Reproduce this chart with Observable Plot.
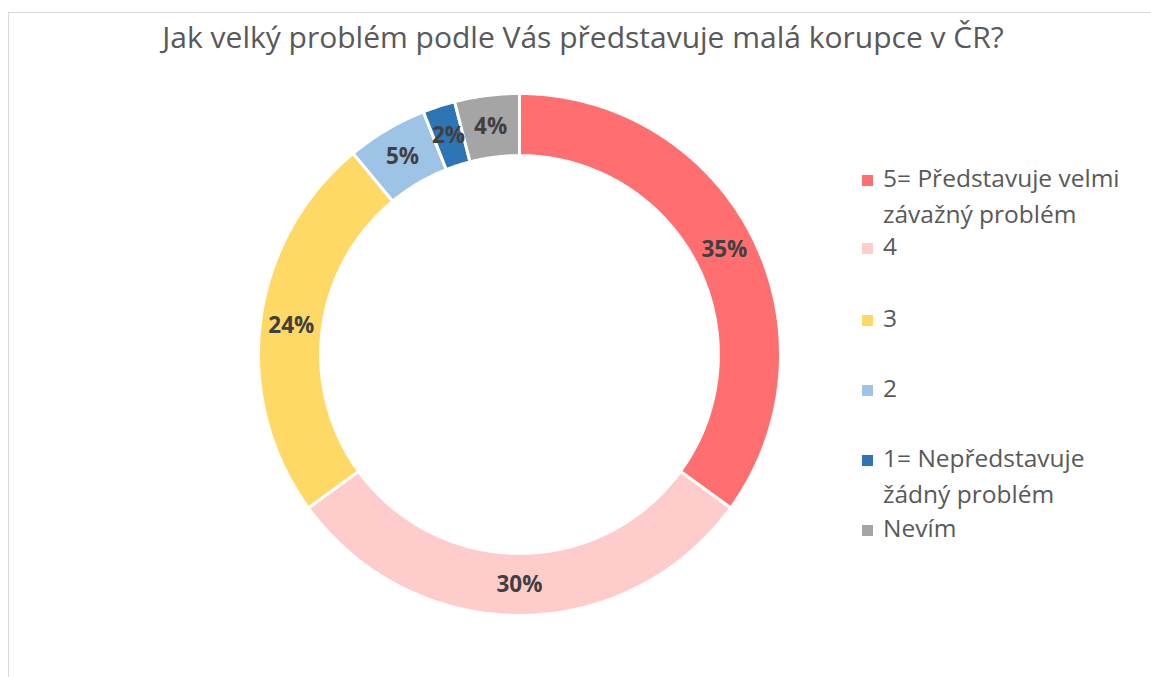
<!DOCTYPE html>
<html><head><meta charset="utf-8">
<script src="https://cdn.jsdelivr.net/npm/d3@7"></script>
<script src="https://cdn.jsdelivr.net/npm/@observablehq/plot@0.6"></script>
<style>
body{margin:0;background:#fff;}
#wrap{position:relative;width:1151px;height:677px;overflow:hidden;font-family:"Open Sans",sans-serif;}
#frame{position:absolute;left:8px;top:12px;width:1200px;height:700px;border-top:1px solid #d9d9d9;border-left:1px solid #d9d9d9;}
#title{position:absolute;left:0;width:1166px;top:22px;text-align:center;font-size:30px;line-height:30px;color:#595959;white-space:nowrap;}
#chart{position:absolute;left:0;top:0;}
.leg{position:absolute;left:862px;font-size:24.5px;color:#595959;line-height:36px;width:276px;}
.leg .sw{position:absolute;left:0;top:15.5px;width:11px;height:11px;}
.leg .tx{margin-left:21px;width:254px;}
</style></head>
<body><div id="wrap"><div id="frame"></div><div id="title"></div><div id="chart"></div></div>
<script>
const title = "Jak velký problém podle Vás představuje malá korupce v ČR?";
const categories = ["5= Představuje velmi závažný problém","4","3","2","1= Nepředstavuje žádný problém","Nevím"];
const values = [35, 30, 24, 5, 2, 4];
const labels = ["35%","30%","24%","5%","2%","4%"];
const colors = ["#FF6F6F","#FFCCCC","#FFD966","#9DC3E6","#2E75B6","#A5A5A5"];

document.getElementById("title").textContent = title;

const W = 1151, H = 677, cx = 519, cy = 354, R = 261, inner = 0.762;
const total = d3.sum(values);
let acc = 0;
const slices = values.map((v, i) => {
  const a0 = acc / total * 2 * Math.PI; acc += v;
  const a1 = acc / total * 2 * Math.PI;
  return {cat: categories[i], label: labels[i], color: colors[i], a0, a1};
});
function arcPoints(s) {
  const n = Math.max(4, Math.ceil((s.a1 - s.a0) / 0.01));
  const pts = [];
  for (let k = 0; k <= n; k++) { const a = s.a0 + (s.a1 - s.a0) * k / n; pts.push({x: Math.sin(a), y: Math.cos(a)}); }
  for (let k = n; k >= 0; k--) { const a = s.a0 + (s.a1 - s.a0) * k / n; pts.push({x: inner * Math.sin(a), y: inner * Math.cos(a)}); }
  pts.push(pts[0]);
  return pts;
}
const mid = (1 + inner) / 2;
const labelData = slices.map(s => ({x: mid * Math.sin((s.a0 + s.a1) / 2), y: mid * Math.cos((s.a0 + s.a1) / 2), label: s.label}));

const plot = Plot.plot({
  width: W, height: H,
  margin: 0,
  x: {domain: [-cx / R, (W - cx) / R], axis: null},
  y: {domain: [-(H - cy) / R, cy / R], axis: null},
  marks: [
    ...slices.map(s => Plot.line(arcPoints(s), {x: "x", y: "y", fill: s.color, stroke: "white", strokeWidth: 3, curve: "linear"})),
    Plot.text(labelData, {x: "x", y: "y", text: "label", fontSize: 22.5, fontWeight: "bold", fill: "#404040", fontFamily: "Open Sans"})
  ],
  style: {background: "transparent"}
});
document.getElementById("chart").appendChild(plot);

const tops = [159.5, 227.5, 299.5, 369.5, 439.5, 509.5];
const wrap = document.getElementById("wrap");
categories.forEach((c, i) => {
  const d = document.createElement("div");
  d.className = "leg"; d.style.top = tops[i] + "px";
  d.innerHTML = `<div class="sw" style="background:${colors[i]}"></div><div class="tx"></div>`;
  d.querySelector(".tx").textContent = c;
  wrap.appendChild(d);
});
</script></body></html>
